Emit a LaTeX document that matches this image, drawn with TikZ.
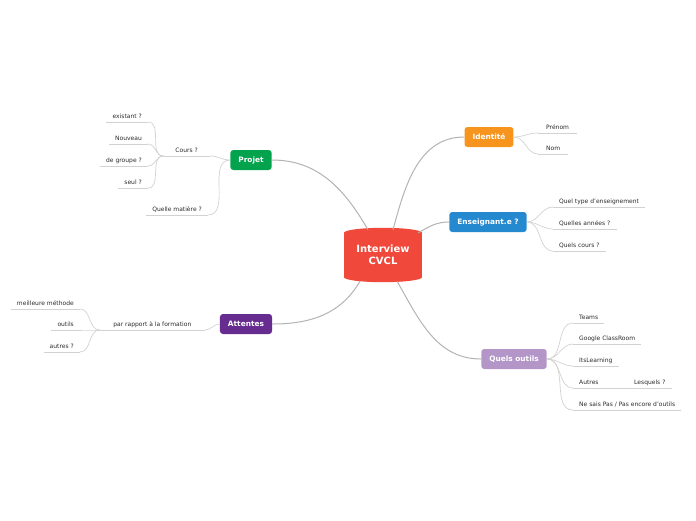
\documentclass[tikz,border=0pt]{standalone}
\usepackage{fontspec}
\setmainfont{DejaVu Sans}
\usetikzlibrary{calc}
\definecolor{mmred}{HTML}{F0483A}
\definecolor{mmgreen}{HTML}{03A24C}
\definecolor{mmpurple}{HTML}{662C90}
\definecolor{mmorange}{HTML}{F7941E}
\definecolor{mmblue}{HTML}{2589D0}
\definecolor{mmlilac}{HTML}{B395C8}
\definecolor{mmline}{HTML}{B3B3B3}
\definecolor{mmleaf}{HTML}{D2D2D2}
\definecolor{mmtext}{HTML}{2B2B2B}

\begin{document}
\begin{tikzpicture}[
  x=1pt, y=-1pt,
  topic/.style={rounded corners=3pt, text=white, font=\fontsize{7.4}{8}\selectfont\bfseries,
                minimum height=20pt, inner xsep=8pt, inner ysep=0pt},
  leaf/.style={text=mmtext, font=\fontsize{6}{7}\selectfont, inner xsep=6pt, inner ysep=2.5pt,
               text height=4.6pt, text depth=1.3pt},
  lleaf/.style={leaf, anchor=south east},
  rleaf/.style={leaf, anchor=south west},
  main/.style={mmline, line width=1pt},
  twig/.style={mmleaf, line width=0.7pt}
]
\useasboundingbox (0,0) rectangle (696,520);

% central topic
\node[fill=mmred, text=white, font=\fontsize{10}{11.5}\selectfont\bfseries, align=center,
      minimum width=78pt, minimum height=44pt, inner sep=0pt] (root) at (383,255) {Interview\\CVCL};
\fill[mmred] (root.north) ellipse [x radius=39pt, y radius=5pt];
\fill[mmred] (root.south) ellipse [x radius=39pt, y radius=5pt];

% main topics
\node[topic, fill=mmgreen] (projet) at (251,160) {Projet};
\node[topic, fill=mmpurple] (attentes) at (246,324) {Attentes};
\node[topic, fill=mmorange] (identite) at (489,137) {Identité};
\node[topic, fill=mmblue] (enseignant) at (488,222) {Enseignant.e ?};
\node[topic, fill=mmlilac] (outils) at (514,359) {Quels outils};

\draw[main] ($(root.north)+(-15,-3)$) to[out=120,in=0] (projet.east);
\draw[main] ($(root.north)+(10,-3)$) to[out=75,in=180] (identite.west);
\draw[main] ($(root.north east)+(-4,0)$) to[out=30,in=180] (enseignant.west);
\draw[main] ($(root.south)+(14,4)$) to[out=-60,in=180] (outils.west);
\draw[main] ($(root.south)+(-23,4)$) to[out=-120,in=0] (attentes.east);

% left side
\node[lleaf, inner xsep=12pt] (cours) at (210,156) {Cours ?};
\node[lleaf] (existant) at (148,122) {existant ?};
\node[lleaf] (nouveau) at (148,144) {Nouveau};
\node[lleaf] (groupe) at (148,166) {de groupe ?};
\node[lleaf] (seul) at (148,188) {seul ?};
\node[lleaf] (matiere) at (208,215) {Quelle matière ?};
\node[lleaf, minimum width=105pt] (formation) at (205,330) {par rapport à la formation};
\node[lleaf] (methode) at (80,309) {meilleure méthode};
\node[lleaf] (outilsatt) at (80,330) {outils};
\node[lleaf] (autresatt) at (80,352) {autres ?};

% right side
\node[rleaf, inner xsep=8pt] (prenom) at (538,133) {Prénom};
\node[rleaf, inner xsep=8pt] (nom) at (538,154) {Nom};
\node[rleaf] (typeens) at (553,207) {Quel type d'enseignement};
\node[rleaf] (annees) at (553,229) {Quelles années ?};
\node[rleaf] (quelscours) at (553,251) {Quels cours ?};
\node[rleaf] (teams) at (573,323) {Teams};
\node[rleaf] (google) at (573,344) {Google ClassRoom};
\node[rleaf] (itslearning) at (573,366) {ItsLearning};
\node[rleaf] (autres) at (573,388) {Autres};
\node[rleaf] (lesquels) at (628,388) {Lesquels ?};
\node[rleaf] (nesaispas) at (573,410) {Ne sais Pas / Pas encore d'outils};

% underlines
\foreach \n in {cours, existant, nouveau, groupe, seul, matiere, formation, methode, outilsatt,
                autresatt, prenom, nom, typeens, annees, quelscours, teams, google, itslearning,
                autres, lesquels, nesaispas}
  \draw[twig] (\n.south west) -- (\n.south east);

% twigs
\foreach \c in {cours, matiere}
  \draw[twig] (projet.west) to[out=180,in=0] (\c.south east);
\foreach \c in {existant, nouveau, groupe, seul}
  \draw[twig] (cours.south west) to[out=180,in=0] (\c.south east);
\draw[twig] (attentes.west) to[out=180,in=0] (formation.south east);
\foreach \c in {methode, outilsatt, autresatt}
  \draw[twig] (formation.south west) to[out=180,in=0] (\c.south east);
\foreach \c in {prenom, nom}
  \draw[twig] (identite.east) to[out=0,in=180] (\c.south west);
\foreach \c in {typeens, annees, quelscours}
  \draw[twig] (enseignant.east) to[out=0,in=180] (\c.south west);
\foreach \c in {teams, google, itslearning, autres, nesaispas}
  \draw[twig] (outils.east) to[out=0,in=180] (\c.south west);
\draw[twig] (autres.south east) -- (lesquels.south west);
\end{tikzpicture}
\end{document}
